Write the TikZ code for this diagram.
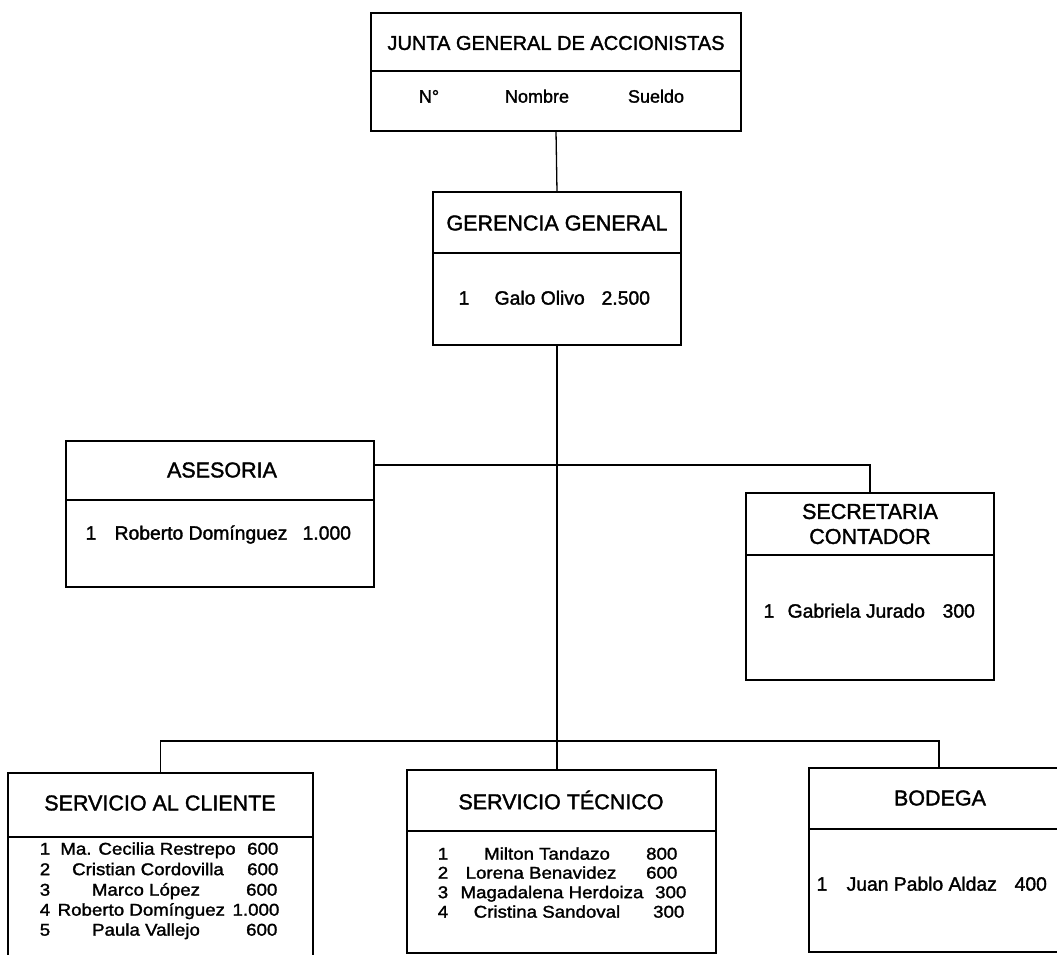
\documentclass[tikz,border=0pt]{standalone}
\usepackage{fontspec}
\setmainfont[FakeBold=1.6]{Liberation Sans}
\newfontfamily\listfont[FakeStretch=1.1,FakeBold=1.6]{Liberation Sans}
\begin{document}
\begin{tikzpicture}[x=1pt,y=1pt,line width=1.3pt,
  box/.style={draw,anchor=north west,inner sep=0pt,outer sep=0pt},
  ttl/.style={font=\fontsize{21.5}{25}\selectfont,align=center,inner sep=0pt},
  jttl/.style={font=\fontsize{20}{24}\selectfont,inner sep=0pt},
  jcol/.style={font=\fontsize{18}{22}\selectfont,inner sep=0pt,anchor=mid},
  txt/.style={font=\fontsize{19.3}{22}\selectfont,inner sep=0pt,anchor=mid west},
  lst/.style={font=\listfont\fontsize{17}{20}\selectfont,inner sep=0pt}]
\useasboundingbox (0,0) rectangle (1057,-955);
\clip (0,0) rectangle (1057,-955);
\fill[white] (0,0) rectangle (1057,-955);

% boxes
\node[box,minimum width=370,minimum height=118] (junta) at (371,-13) {};
\node[box,minimum width=248,minimum height=153] (gerencia) at (433,-192) {};
\node[box,minimum width=308,minimum height=146] (asesoria) at (66,-441) {};
\node[box,minimum width=248,minimum height=187] (secretaria) at (746,-493) {};
\node[box,minimum width=305,minimum height=200] (cliente) at (8,-773) {};
\node[box,minimum width=309,minimum height=183] (tecnico) at (407,-770) {};
\node[box,minimum width=260,minimum height=184] (bodega) at (809,-768) {};

% dividers
\draw ([yshift=-58]junta.north west) -- ([yshift=-58]junta.north east);
\draw ([yshift=-61]gerencia.north west) -- ([yshift=-61]gerencia.north east);
\draw ([yshift=-59]asesoria.north west) -- ([yshift=-59]asesoria.north east);
\draw ([yshift=-62]secretaria.north west) -- ([yshift=-62]secretaria.north east);
\draw ([yshift=-64]cliente.north west) -- ([yshift=-64]cliente.north east);
\draw ([yshift=-61]tecnico.north west) -- ([yshift=-61]tecnico.north east);
\draw ([yshift=-61]bodega.north west) -- ([yshift=-61]bodega.north east);

% connectors
\draw (junta.south) -- (gerencia.north);
\draw (gerencia.south) -- (gerencia.south |- tecnico.north);
\coordinate (busA) at (asesoria.east |- 0,-465);
\draw (busA) -| (secretaria.north);
\coordinate (busB) at (cliente.north |- 0,-741);
\draw (cliente.north) -- (busB) -| (bodega.north);

% junta
\node[jttl] (jt) at (556,-43) {JUNTA GENERAL DE ACCIONISTAS};
\node[jcol] (jn) at (429,-100) {N°};
\node[jcol] (jnom) at (537,-100) {Nombre};
\node[jcol] (jsue) at (656,-100) {Sueldo};

% gerencia
\node[ttl] (gt) at (557,-223) {GERENCIA GENERAL};
\node[txt] (g1) at (458,-302) {1};
\node[txt] (g2) at (494,-302) {Galo Olivo};
\node[txt] (g3) at (601,-302) {2.500};

% asesoria
\node[ttl] (at) at (222,-470) {ASESORIA};
\node[txt] (a1) at (85,-537) {1};
\node[txt] (a2) at (114,-537) {Roberto Domínguez};
\node[txt] (a3) at (302,-537) {1.000};

% secretaria
\node[ttl] (st) at (870,-524) {SECRETARIA\\CONTADOR};
\node[txt] (s1) at (763,-615) {1};
\node[txt] (s2) at (787,-615) {Gabriela Jurado};
\node[txt] (s3) at (942,-615) {300};

% servicio al cliente
\node[ttl] (ct) at (160,-803) {SERVICIO AL CLIENTE};
\node[lst,anchor=mid] (c1n) at (45,-852) {1};
\node[lst,anchor=mid] (c1a) at (148,-852) {Ma. Cecilia Restrepo};
\node[lst,anchor=mid east] (c1b) at (279,-852) {600};
\node[lst,anchor=mid] (c2n) at (45,-872.5) {2};
\node[lst,anchor=mid] (c2a) at (148,-872.5) {Cristian Cordovilla};
\node[lst,anchor=mid east] (c2b) at (279,-872.5) {600};
\node[lst,anchor=mid] (c3n) at (45,-893) {3};
\node[lst,anchor=mid] (c3a) at (146,-893) {Marco López};
\node[lst,anchor=mid east] (c3b) at (278,-893) {600};
\node[lst,anchor=mid] (c4n) at (45,-913) {4};
\node[lst,anchor=mid west] (c4a) at (57,-913) {Roberto Domínguez};
\node[lst,anchor=mid east] (c4b) at (280,-913) {1.000};
\node[lst,anchor=mid] (c5n) at (45,-933) {5};
\node[lst,anchor=mid] (c5a) at (146,-933) {Paula Vallejo};
\node[lst,anchor=mid east] (c5b) at (278,-933) {600};

% servicio tecnico
\node[ttl] (tt) at (561,-800) {SERVICIO TÉCNICO};
\node[lst,anchor=mid] (t1n) at (443,-857) {1};
\node[lst,anchor=mid] (t1a) at (547,-857) {Milton Tandazo};
\node[lst,anchor=mid east] (t1b) at (678,-857) {800};
\node[lst,anchor=mid] (t2n) at (443,-876) {2};
\node[lst,anchor=mid] (t2a) at (541,-876) {Lorena Benavidez};
\node[lst,anchor=mid east] (t2b) at (678,-876) {600};
\node[lst,anchor=mid] (t3n) at (443,-895.5) {3};
\node[lst,anchor=mid] (t3a) at (552,-895.5) {Magadalena Herdoiza};
\node[lst,anchor=mid east] (t3b) at (687,-895.5) {300};
\node[lst,anchor=mid] (t4n) at (443,-915) {4};
\node[lst,anchor=mid] (t4a) at (547,-915) {Cristina Sandoval};
\node[lst,anchor=mid east] (t4b) at (685,-915) {300};

% bodega
\node[ttl] (bt) at (940,-798) {BODEGA};
\node[txt] (b1) at (816,-888) {1};
\node[txt] (b2) at (846,-888) {Juan Pablo Aldaz};
\node[txt] (b3) at (1014,-888) {400};
\end{tikzpicture}
\end{document}
